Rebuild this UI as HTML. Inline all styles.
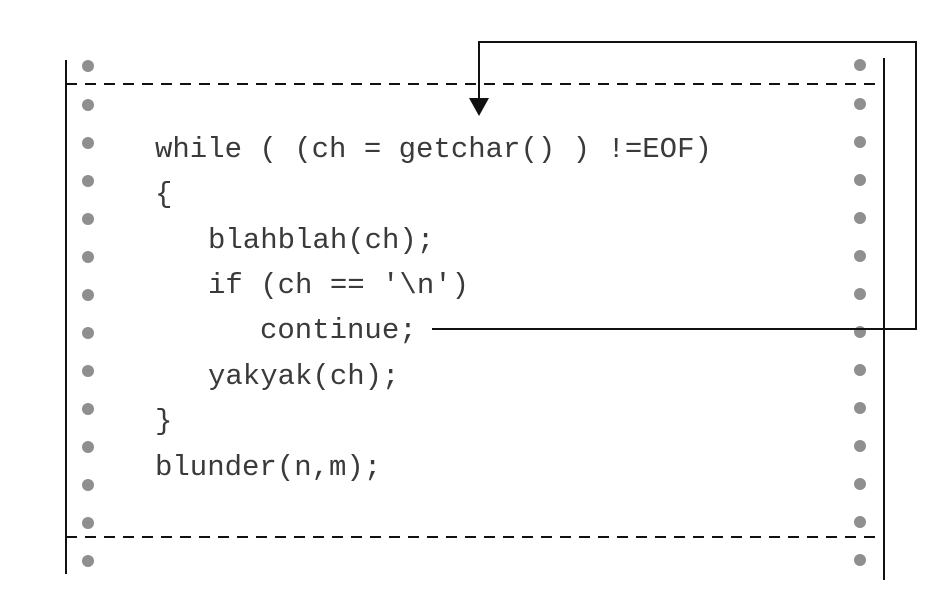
<!DOCTYPE html>
<html><head><meta charset="utf-8"><style>html,body{margin:0;padding:0;background:#fff}</style></head>
<body>
<svg width="941" height="590" viewBox="0 0 941 590" xmlns="http://www.w3.org/2000/svg">
<g fill="#8f8f8f">
<circle cx="88" cy="66" r="6"/><circle cx="88" cy="105" r="6"/><circle cx="88" cy="143" r="6"/><circle cx="88" cy="181" r="6"/><circle cx="88" cy="219" r="6"/><circle cx="88" cy="257" r="6"/><circle cx="88" cy="295" r="6"/><circle cx="88" cy="333" r="6"/><circle cx="88" cy="371" r="6"/><circle cx="88" cy="409" r="6"/><circle cx="88" cy="447" r="6"/><circle cx="88" cy="485" r="6"/><circle cx="88" cy="523" r="6"/><circle cx="88" cy="561" r="6"/>
<circle cx="860" cy="65" r="6"/><circle cx="860" cy="104" r="6"/><circle cx="860" cy="142" r="6"/><circle cx="860" cy="180" r="6"/><circle cx="860" cy="218" r="6"/><circle cx="860" cy="256" r="6"/><circle cx="860" cy="294" r="6"/><circle cx="860" cy="332" r="6"/><circle cx="860" cy="370" r="6"/><circle cx="860" cy="408" r="6"/><circle cx="860" cy="446" r="6"/><circle cx="860" cy="484" r="6"/><circle cx="860" cy="522" r="6"/><circle cx="860" cy="560" r="6"/>
</g>
<g stroke="#111" stroke-width="2" fill="none">
<line x1="66" y1="60" x2="66" y2="574"/>
<line x1="884" y1="58" x2="884" y2="580"/>
<line x1="66" y1="84" x2="884" y2="84" stroke-dasharray="11,8"/>
<line x1="66" y1="537" x2="884" y2="537" stroke-dasharray="11,8"/>
<polyline points="432,329 916,329 916,42 479,42 479,100"/>
</g>
<polygon points="469,98 489,98 479,116" fill="#111"/>
<g font-family="Liberation Mono, monospace" font-size="29" fill="#3a3a3a">
<text x="155" y="157">while ( (ch = getchar() ) !=EOF)</text>
<text x="155" y="202">{</text>
<text x="208" y="248">blahblah(ch);</text>
<text x="208" y="293">if (ch == '\n')</text>
<text x="260" y="338">continue;</text>
<text x="208" y="384">yakyak(ch);</text>
<text x="155" y="429">}</text>
<text x="155" y="475">blunder(n,m);</text>
</g>
</svg>
</body></html>
